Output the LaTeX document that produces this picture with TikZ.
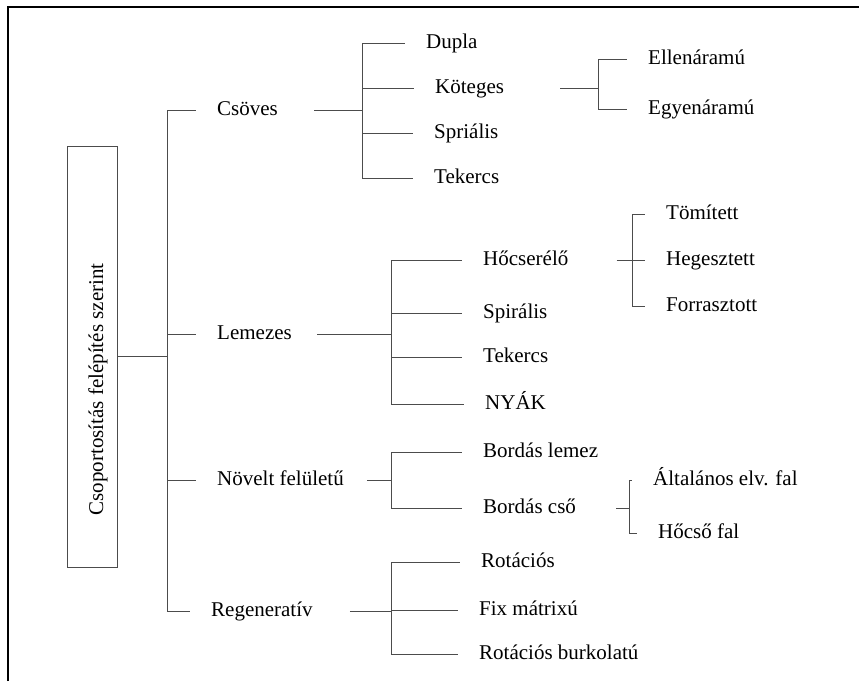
\documentclass[tikz,border=0pt]{standalone}
\usepackage{fontspec}
\setmainfont{Liberation Serif}
\begin{document}
\begin{tikzpicture}[x=1pt, y=-1pt,
  font=\fontsize{21}{25}\selectfont,
  conn/.style={draw=black!70, line width=0.8pt},
  leaf/.style={anchor=base west, inner sep=0pt, text height=2ex, text depth=0pt}]
  \useasboundingbox (0,0) rectangle (859,681);
  % keret
  \draw[line width=2pt] (8,681) -- (8,6.5) -- (859,6.5);

  % gyoker
  \node[draw=black!70, line width=0.8pt, inner sep=0pt,
        minimum width=50pt, minimum height=421pt] (root) at (92.5,356.5) {};
  \node[rotate=90, anchor=base, inner sep=0pt] (rtext) at (103,389.5) {Csoportosítás felépítés szerint};

  % elso szint
  \node[leaf] (cs) at (217,115) {Csöves};
  \node[leaf] (lm) at (217,339) {Lemezes};
  \node[leaf] (nf) at (217,485) {Növelt felületű};
  \node[leaf] (rg) at (211,616) {Regeneratív};

  % csoves
  \node[leaf] (dupla) at (426,48) {Dupla};
  \node[leaf] (kt) at (435,93) {Köteges};
  \node[leaf] (spr) at (434,138) {Spriális};
  \node[leaf] (tek1) at (434,183) {Tekercs};
  \node[leaf] (ell) at (648,64) {Ellenáramú};
  \node[leaf] (egy) at (648,114) {Egyenáramú};

  % lemezes
  \node[leaf] (hc) at (483,265) {Hőcserélő};
  \node[leaf] (spi) at (483,318) {Spirális};
  \node[leaf] (tek2) at (483,362) {Tekercs};
  \node[leaf] (nyak) at (485,409) {NYÁK};
  \node[leaf] (tom) at (666,219) {Tömített};
  \node[leaf] (heg) at (666,265) {Hegesztett};
  \node[leaf] (forr) at (666,311) {Forrasztott};

  % novelt feluletu
  \node[leaf] (bl) at (483,457) {Bordás lemez};
  \node[leaf] (bc) at (483,513) {Bordás cső};
  \node[leaf] (alt) at (653,485) {Általános elv. fal};
  \node[leaf] (hcs) at (658,538) {Hőcső fal};

  % regenerativ
  \node[leaf] (rot) at (481,567) {Rotációs};
  \node[leaf] (fix) at (479,615) {Fix mátrixú};
  \node[leaf] (rb) at (479,659) {Rotációs burkolatú};

  % fuggoleges gerincek
  \coordinate (tA) at (167,0);
  \coordinate (tB) at (362,0);
  \coordinate (tC) at (391,0);
  \coordinate (tD) at (598,0);
  \coordinate (tE) at (632,0);
  \coordinate (tF) at (629,0);

  \draw[conn] (root.east) -- (root.east -| tA);
  \draw[conn] (tA |- cs.west) -- (tA |- rg.west);
  \foreach \n in {cs,lm,nf,rg}
    \draw[conn] (tA |- \n.west) -- ([xshift=-21pt]\n.west);

  \draw[conn] ([xshift=36pt]cs.east) -- (cs.east -| tB);
  \draw[conn] (tB |- dupla.west) -- (tB |- tek1.west);
  \foreach \n in {dupla,kt,spr,tek1}
    \draw[conn] (tB |- \n.west) -- ([xshift=-21pt]\n.west);
  \draw[conn] ([xshift=56pt]kt.east) -- (kt.east -| tD);
  \draw[conn] (tD |- ell.west) -- (tD |- egy.west);
  \foreach \n in {ell,egy}
    \draw[conn] (tD |- \n.west) -- ([xshift=-21pt]\n.west);

  \draw[conn] ([xshift=25pt]lm.east) -- (lm.east -| tC);
  \draw[conn] (tC |- hc.west) -- (tC |- nyak.west);
  \foreach \n in {hc,spi,tek2,nyak}
    \draw[conn] (tC |- \n.west) -- ([xshift=-21pt]\n.west);
  \draw[conn] ([xshift=48pt]hc.east) -- (hc.east -| tE);
  \draw[conn] (tE |- tom.west) -- (tE |- forr.west);
  \foreach \n in {tom,heg,forr}
    \draw[conn] (tE |- \n.west) -- ([xshift=-21pt]\n.west);

  \draw[conn] ([xshift=23pt]nf.east) -- (nf.east -| tC);
  \draw[conn] (tC |- bl.west) -- (tC |- bc.west);
  \foreach \n in {bl,bc}
    \draw[conn] (tC |- \n.west) -- ([xshift=-21pt]\n.west);
  \draw[conn] ([xshift=40pt]bc.east) -- (bc.east -| tF);
  \draw[conn] (tF |- alt.west) -- (tF |- hcs.west);
  \foreach \n in {alt,hcs}
    \draw[conn] (tF |- \n.west) -- ([xshift=-21pt]\n.west);

  \draw[conn] ([xshift=37pt]rg.east) -- (rg.east -| tC);
  \draw[conn] (tC |- rot.west) -- (tC |- rb.west);
  \foreach \n in {rot,fix,rb}
    \draw[conn] (tC |- \n.west) -- ([xshift=-21pt]\n.west);
\end{tikzpicture}
\end{document}
